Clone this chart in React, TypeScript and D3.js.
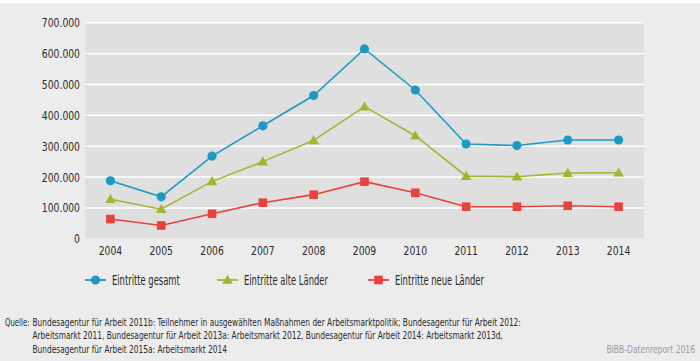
import React from "react";
import * as d3 from "d3";

const years = ["2004","2005","2006","2007","2008","2009","2010","2011","2012","2013","2014"];
const gesamt = [188000,136000,268000,366000,464000,615000,482000,307000,302000,320000,320000];
const alte = [128000,96000,186000,250000,319000,428000,334000,203000,201000,213000,214000];
const neue = [64000,43000,81000,117000,143000,185000,149000,104000,104000,107000,104000];
const yTicks = [0,100000,200000,300000,400000,500000,600000,700000];
const seriesNames = ["Eintritte gesamt","Eintritte alte Länder","Eintritte neue Länder"];
const sourceLines = [
  "Bundesagentur für Arbeit 2011b: Teilnehmer in ausgewählten Maßnahmen der Arbeitsmarktpolitik; Bundesagentur für Arbeit 2012:",
  "Arbeitsmarkt 2011, Bundesagentur für Arbeit 2013a: Arbeitsmarkt 2012, Bundesagentur für Arbeit 2014: Arbeitsmarkt 2013d,",
  "Bundesagentur für Arbeit 2015a: Arbeitsmarkt 2014",
];

const W = 700, H = 361;
const plot = { left: 85, right: 644, top: 22.7, bottom: 238.8 };
const FONT = "'DejaVu Sans Condensed', 'DejaVu Sans', sans-serif";
const colors = ["#1c9ac4", "#a3b52f", "#e8423c"];

function fmt(v: number) {
  return v === 0 ? "0" : d3.format(",")(v).replace(/,/g, ".");
}

function T({ x, y, sx, size, anchor = "start", fill = "#2a2a2a", children }: any) {
  return (
    <g transform={`translate(${x},${y}) scale(${sx},1)`}>
      <text x={0} y={0} dy="0.35em" textAnchor={anchor} fontSize={size} fill={fill}>{children}</text>
    </g>
  );
}

function Marker({ type, x, y, color }: { type: string; x: number; y: number; color: string }) {
  if (type === "circle") return <circle cx={x} cy={y} r={4.6} fill={color} />;
  if (type === "square") return <rect x={x - 4.3} y={y - 4.3} width={8.6} height={8.6} fill={color} />;
  const s = d3.symbol(d3.symbolTriangle, 48)();
  return <path d={s || ""} transform={`translate(${x},${y + 0.8})`} fill={color} />;
}

export default function App() {
  const x = d3.scaleBand<string>().domain(years).range([plot.left, plot.right]);
  const y = d3.scaleLinear().domain([0, 700000]).range([plot.bottom, plot.top]);
  const series = [gesamt, alte, neue];
  const types = ["circle", "triangle", "square"];
  const cx = (i: number) => (x(years[i]) as number) + x.bandwidth() / 2;
  const line = d3.line<number>().x((_, i) => cx(i)).y((d) => y(d));
  const legendX = [85, 217, 368];

  return (
    <svg width={W} height={H} style={{ position: "absolute", left: 0, top: 0 }} fontFamily={FONT}>
      <rect x={0} y={0} width={W} height={H} fill="#ffffff" />
      <rect x={0} y={3} width={W} height={H - 3} fill="#ececec" />
      <rect x={plot.left} y={plot.top} width={plot.right - plot.left} height={plot.bottom - plot.top} fill="#dfdfdf" />
      {yTicks.map((t) => (
        <g key={t}>
          {t > 0 && <line x1={plot.left} x2={plot.right} y1={y(t)} y2={y(t)} stroke="#ffffff" strokeWidth={1.5} />}
          <T x={80} y={y(t)} sx={0.79} size={13} anchor="end">{fmt(t)}</T>
        </g>
      ))}
      {years.map((yr, i) => (
        <T key={yr} x={cx(i)} y={250} sx={0.79} size={13} anchor="middle">{yr}</T>
      ))}
      {series.map((s, si) => (
        <g key={si}>
          <path d={line(s) || ""} fill="none" stroke={colors[si]} strokeWidth={1.6} />
          {s.map((v, i) => (
            <Marker key={i} type={types[si]} x={cx(i)} y={y(v)} color={colors[si]} />
          ))}
        </g>
      ))}
      {seriesNames.map((n, si) => (
        <g key={n}>
          <line x1={legendX[si]} x2={legendX[si] + 21} y1={280} y2={280} stroke={colors[si]} strokeWidth={1.8} />
          <Marker type={types[si]} x={legendX[si] + 10.5} y={280} color={colors[si]} />
          <T x={legendX[si] + 27} y={280} sx={0.69} size={13.5}>{n}</T>
        </g>
      ))}
      <T x={5} y={322} sx={0.7} size={11}>Quelle:</T>
      {sourceLines.map((l, i) => (
        <T key={i} x={32.5} y={322 + i * 13.5} sx={0.75} size={11}>{l}</T>
      ))}
      <T x={695} y={349} sx={0.77} size={11} anchor="end" fill="#9a9a9a">BIBB-Datenreport 2016</T>
    </svg>
  );
}
